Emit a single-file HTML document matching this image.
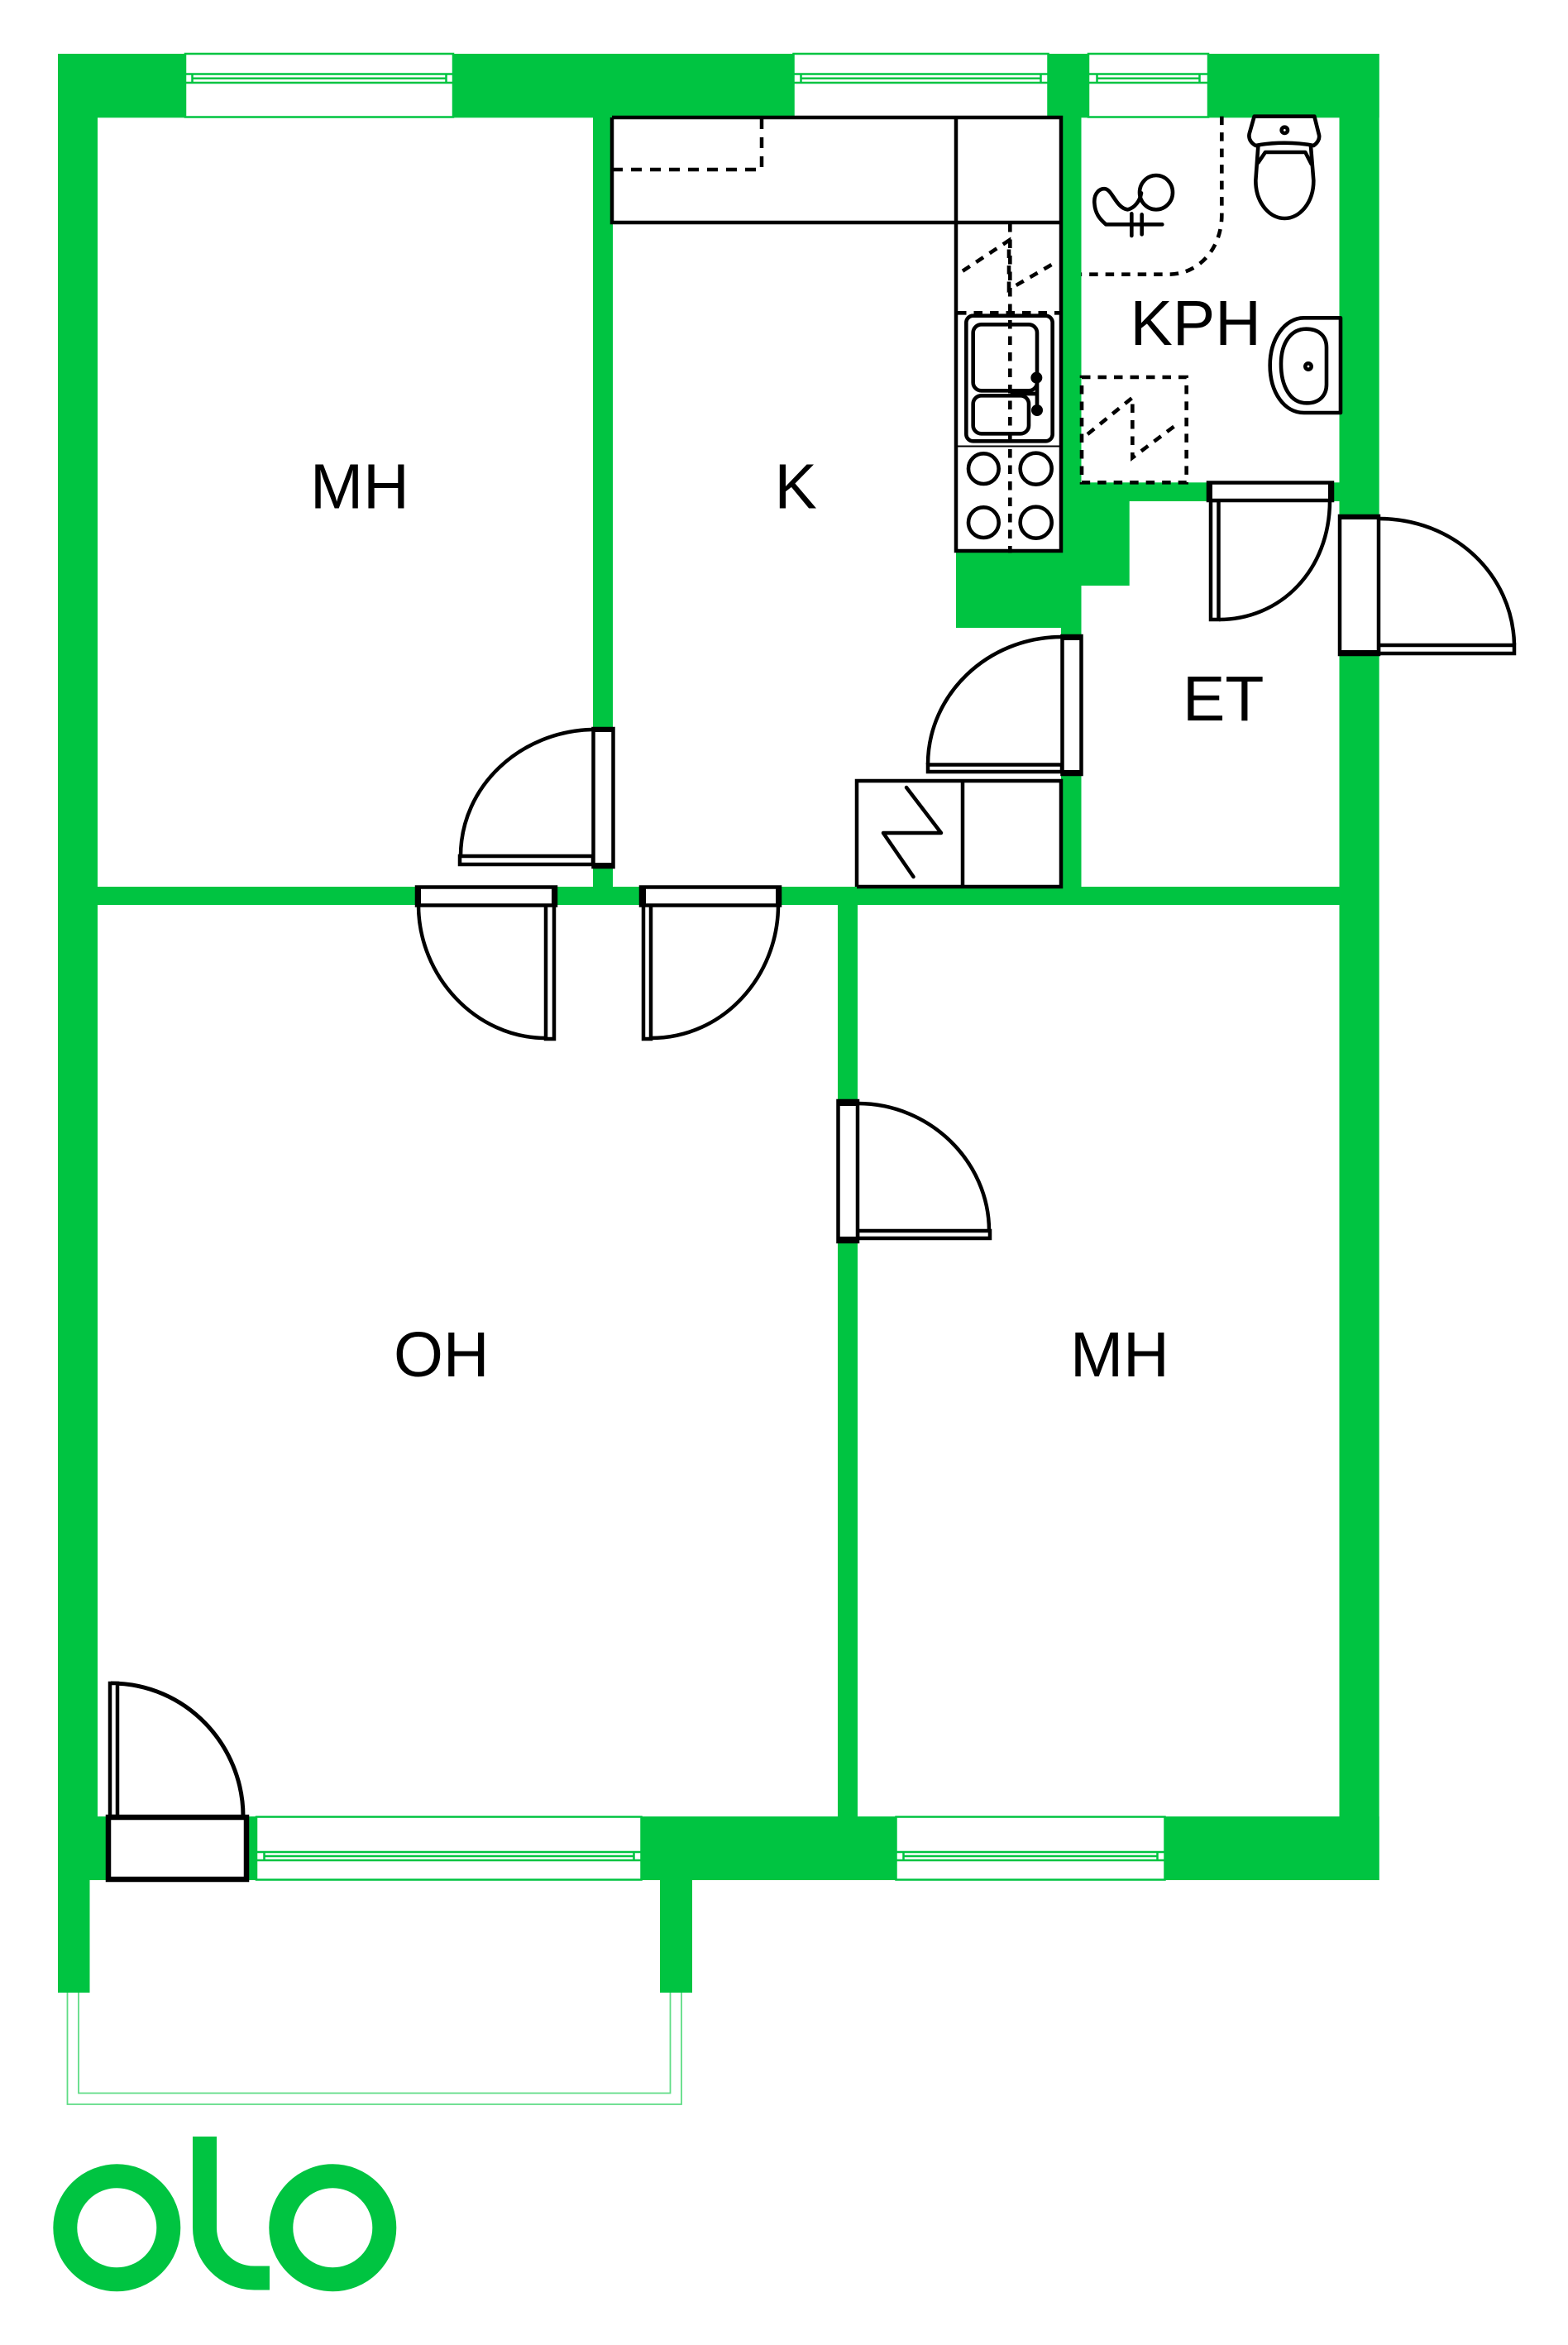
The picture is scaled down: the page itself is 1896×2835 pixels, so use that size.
<!DOCTYPE html>
<html><head><meta charset="utf-8"><style>
html,body{margin:0;padding:0;background:#fff}
svg{display:block}
.g{fill:#00c441}
.w{fill:#fff;stroke:#00c441;stroke-width:2.5}
.wl{fill:none;stroke:#00c441;stroke-width:2.5}
.b{fill:none;stroke:#000;stroke-width:4.5}
.d{fill:#fff;stroke:#000;stroke-width:4.5}
.k{fill:#000}
.ds{fill:none;stroke:#000;stroke-width:4.5;stroke-dasharray:13 10}
.z{fill:none;stroke:#000;stroke-width:4.6;vector-effect:non-scaling-stroke;stroke-linejoin:round;stroke-linecap:round}
.zd{fill:none;stroke:#000;stroke-width:4.6;vector-effect:non-scaling-stroke;stroke-dasharray:10.5 9}
text{font-family:"Liberation Sans",sans-serif;font-size:77px;fill:#000}
</style></head><body>
<svg width="1896" height="2835" viewBox="0 0 1896 2835" xmlns="http://www.w3.org/2000/svg">
<rect width="1896" height="2835" fill="#fff"/>
<!-- walls -->
<g class="g">
<rect x="70" y="65" width="1597.7" height="77.3"/>
<rect x="70" y="65" width="48" height="2208"/>
<rect x="70" y="2273" width="38.5" height="136"/>
<rect x="1619.5" y="65" width="48.2" height="2208"/>
<rect x="118" y="1072" width="1502" height="22"/>
<rect x="717" y="142" width="24" height="930"/>
<rect x="1283" y="142" width="24.5" height="930"/>
<rect x="1156" y="666" width="151.5" height="93"/>
<rect x="1307" y="606" width="58.7" height="102"/>
<rect x="1307" y="583.3" width="313" height="22.7"/>
<rect x="1013" y="1094" width="24" height="1102"/>
<rect x="118" y="2196" width="1549.7" height="77"/>
<rect x="798" y="2273" width="39" height="136"/>
</g>
<!-- balcony rail -->
<path d="M81.5 2409V2544H824V2409M95 2409V2530.5H810.5V2409" fill="none" stroke="#5fdc85" stroke-width="1.8"/>
<!-- windows -->
<g>
<rect class="w" x="224" y="65" width="324" height="76.5"/>
<path class="wl" d="M224 89.5H548M224 100H548M233 94.7H539M232.5 89.5V100M539.5 89.5V100"/>
<rect class="w" x="959.5" y="65" width="308" height="76.5"/>
<path class="wl" d="M959.5 89.5H1267.5M959.5 100H1267.5M969 94.7H1258M968.5 89.5V100M1258.5 89.5V100"/>
<rect class="w" x="1316" y="65" width="145" height="76.5"/>
<path class="wl" d="M1316 89.5H1461M1316 100H1461M1327 94.7H1450M1326.5 89.5V100M1450.5 89.5V100"/>
<rect class="w" x="310" y="2196.5" width="465.5" height="76"/>
<path class="wl" d="M310 2239H775.5M310 2249H775.5M320 2244H766M319.5 2239V2249M766.5 2239V2249"/>
<rect class="w" x="1083.5" y="2196.5" width="325" height="76"/>
<path class="wl" d="M1083.5 2239H1408.5M1083.5 2249H1408.5M1093 2244H1399M1092.5 2239V2249M1399.5 2239V2249"/>
</g>
<!-- kitchen counter -->
<path class="b" d="M740 142H1283V666H1156V269M740 142V269H1283M1156 142V269"/>
<path class="ds" d="M740 205H921V142"/>
<path class="b" style="stroke-width:2" d="M1156 539.5H1283"/>
<!-- closet -->
<path class="b" d="M1036 1072V944H1283V1072H1036M1164 944V1072"/>
<path class="b" stroke-linejoin="round" stroke-linecap="round" d="M1096 952L1138 1007H1068L1104.5 1060"/>
<!-- kitchen detail (3x crop coordinates) -->
<g transform="translate(1150,260) scale(.33333)">
<path class="zd" d="M24 355H398M214 30V1225M42 203L210 92V270L368 178"/>
<rect class="z" x="55" y="365" width="313" height="455" rx="25"/>
<rect class="z" x="80" y="397" width="232" height="240" rx="30"/>
<rect class="z" x="80" y="655" width="202" height="138" rx="30"/>
<path fill="none" stroke="#000" stroke-width="14" d="M215 648H312M312 590V710"/>
<circle class="k" cx="310" cy="590" r="21"/>
<circle class="k" cx="312" cy="708" r="21"/>
<circle class="z" cx="118" cy="920" r="55"/>
<circle class="z" cx="308" cy="920" r="57"/>
<circle class="z" cx="118" cy="1115" r="55"/>
<circle class="z" cx="308" cy="1115" r="57"/>
</g>
<!-- bath detail (3x crop coordinates) -->
<g transform="translate(1300,130) scale(.33333)">
<path class="zd" d="M532 32V390C532 510 450 605 340 605H22"/>
<path class="zd" d="M24 978H404V1360H24ZM45 1185L208 1052V1270L365 1152"/>
<!-- toilet -->
<path class="z" d="M650 32H868L885 100C888 115 878 130 865 138C800 125 720 125 655 138C640 130 628 115 632 95Z"/>
<path class="z" d="M664 140L655 265C655 345 705 402 760 402C815 402 865 345 865 265L855 140"/>
<path class="z" d="M664 200L690 162H835L857 205"/>
<circle class="z" cx="760" cy="82" r="11"/>
<!-- bidet shower -->
<path class="z" d="M112 424H316M112 424C90 405 72 385 70 345C68 310 90 292 110 295C135 300 150 365 190 370C215 365 235 340 240 310"/>
<ellipse class="z" cx="294" cy="308" rx="60" ry="62"/>
<path class="z" d="M205 385V465M242 388V460"/>
<!-- washbasin -->
<path class="z" d="M963 763H830C760 763 707 840 707 935C707 1035 760 1107 830 1107H963Z"/>
<path class="z" d="M838 803C785 803 747 850 747 930C747 1010 780 1072 840 1072C890 1072 912 1040 912 1005V870C912 825 880 803 838 803Z"/>
<circle class="z" cx="846" cy="939" r="11"/>
</g>
<!-- doors -->
<!-- door K/MH -->
<path class="b" d="M716 882C630 884 557 950 557 1035"/>
<path class="d" d="M556 1035H717V1045H556Z"/>
<rect class="d" x="717.5" y="881" width="24" height="167"/>
<rect class="k" x="716" y="879" width="26" height="6"/><rect class="k" x="716" y="1043" width="26" height="7"/>
<!-- door OH/MH left -->
<path class="b" d="M506 1094C506 1180 575 1255 660 1255"/>
<path class="d" d="M660 1094H670V1256H660Z"/>
<rect class="d" x="504" y="1072.5" width="168" height="22"/>
<rect class="k" x="502" y="1071" width="7" height="24"/><rect class="k" x="667" y="1071" width="7" height="24"/>
<!-- door OH/K -->
<path class="b" d="M941 1094C941 1180 875 1255 787 1255"/>
<path class="d" d="M778 1094H787V1256H778Z"/>
<rect class="d" x="775" y="1072.5" width="168" height="22"/>
<rect class="k" x="773" y="1071" width="8" height="24"/><rect class="k" x="938" y="1071" width="7" height="24"/>
<!-- door OH/MH2 -->
<path class="b" d="M1037 1334C1125 1334 1196 1405 1196 1488"/>
<path class="d" d="M1037 1488H1197V1497H1037Z"/>
<rect class="d" x="1013.5" y="1331" width="23.5" height="170"/>
<rect class="k" x="1012" y="1330" width="26" height="7"/><rect class="k" x="1012" y="1495" width="26" height="7"/>
<!-- door K/ET -->
<path class="b" d="M1284 770C1194 770 1122 840 1122 924"/>
<path class="d" d="M1122 924.5H1284V933H1122Z"/>
<rect class="d" x="1284.5" y="769" width="23" height="167"/>
<rect class="k" x="1283" y="768" width="26" height="6"/><rect class="k" x="1283" y="931" width="26" height="7"/>
<!-- door KPH -->
<path class="b" d="M1608 605C1608 690 1548 749 1474 749"/>
<path class="d" d="M1464 605H1473.5V749H1464Z"/>
<rect class="d" x="1461" y="583.5" width="150" height="21.5"/>
<rect class="k" x="1459" y="582" width="7" height="24"/><rect class="k" x="1606" y="582" width="7" height="24"/>
<!-- door exterior -->
<path class="b" d="M1667 627C1759 627 1829 695 1831 779"/>
<path class="d" d="M1667 780H1831V790H1667Z"/>
<rect class="d" x="1620" y="624" width="47" height="167"/>
<rect class="k" x="1618.5" y="622" width="50" height="6"/><rect class="k" x="1618.5" y="786" width="50" height="7"/>
<!-- balcony door -->
<path class="b" style="stroke-width:5" d="M134 2035C225 2035 294 2110 294 2196"/>
<path class="d" d="M133 2035H142V2196H133Z"/>
<rect fill="#fff" stroke="#000" stroke-width="6.5" x="131" y="2197" width="167" height="75"/>
<!-- labels -->
<text x="375" y="614.5">MH</text>
<text x="936.5" y="614.5">K</text>
<text x="1366.5" y="417">KPH</text>
<text x="1430" y="871">ET</text>
<text x="476" y="1664">OH</text>
<text x="1294" y="1664">MH</text>
<!-- logo -->
<circle cx="141.3" cy="2693.3" r="62.5" fill="none" stroke="#00c441" stroke-width="29"/>
<circle cx="402.3" cy="2693.3" r="62.5" fill="none" stroke="#00c441" stroke-width="29"/>
<path d="M247.5 2583V2693C247.5 2727 274 2754 307.5 2754H326" fill="none" stroke="#00c441" stroke-width="29"/>
</svg>
</body></html>
